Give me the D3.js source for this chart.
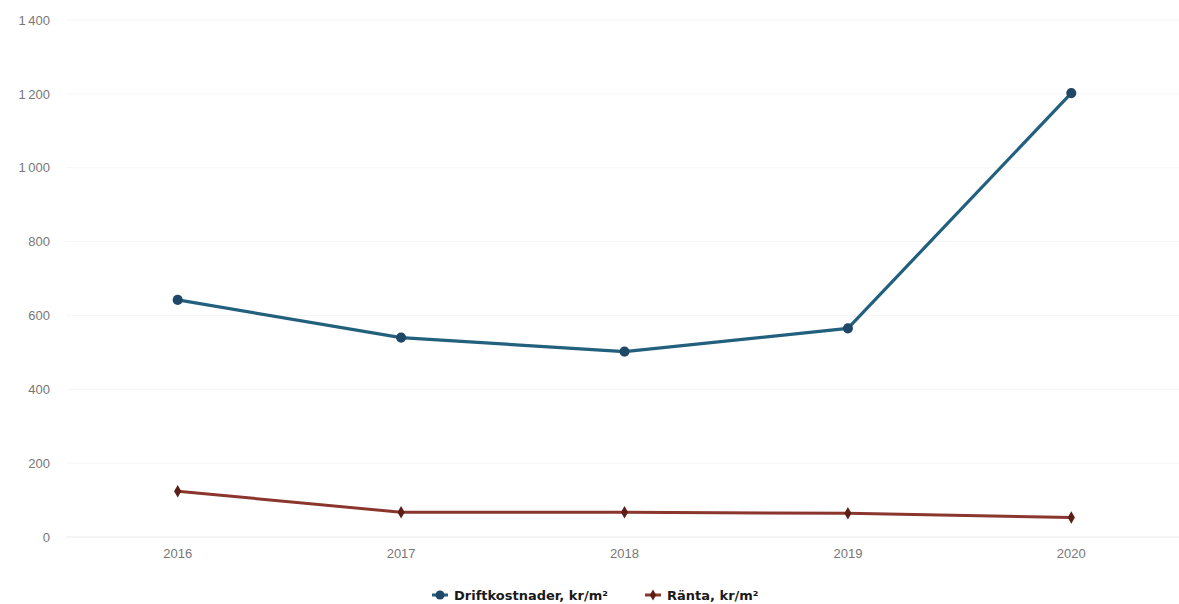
<!DOCTYPE html>
<html>
<head>
<meta charset="utf-8">
<script src="https://cdn.jsdelivr.net/npm/d3@7"></script>
<style>
  body { margin: 0; background: #fff; }
  svg { display: block; font-family: "Open Sans", "DejaVu Sans", sans-serif; }
  .tick-label { fill: #777; font-size: 13px; }
  .legend-label { fill: #1a1a1a; font-size: 14px; font-weight: 700; font-family: "DejaVu Sans", sans-serif; }
</style>
</head>
<body>
<div id="chart"></div>
<script>
// Driftkostnader vs Ränta, kr/m² per år

const years = ['2016', '2017', '2018', '2019', '2020'];
const driftkostnader = [642, 540, 502, 565, 1202];
const ranta = [124, 67, 67, 64, 53];
const yTicks = [0, 200, 400, 600, 800, 1000, 1200, 1400];

const W = 1179, H = 604;
const margin = { top: 20, right: 0, bottom: 67, left: 66 };
const width = W - margin.left - margin.right;
const height = H - margin.top - margin.bottom;

const svg = d3.select('#chart').append('svg')
    .attr('width', W)
    .attr('height', H);

const g = svg.append('g')
    .attr('transform', `translate(${margin.left},${margin.top})`);

// Scales (the band range runs a little past the right edge, as in the original)
const xScale = d3.scaleBand()
    .domain(years)
    .range([0, width + 4]);

const yScale = d3.scaleLinear()
    .domain([0, 1400])
    .range([height, 0]);

const cx = d => xScale(d) + xScale.bandwidth() / 2;

// Faint grid lines
g.selectAll('.grid')
    .data(yTicks)
    .enter()
    .append('line')
    .attr('x1', 0)
    .attr('x2', width)
    .attr('y1', d => yScale(d))
    .attr('y2', d => yScale(d))
    .attr('stroke', d => d === 0 ? '#ececec' : '#f6f6f6')
    .attr('stroke-width', 1);

// Y axis labels
const yAxis = g.append('g')
    .call(d3.axisLeft(yScale).tickValues(yTicks).tickSize(0).tickPadding(16)
        .tickFormat(d => d3.format(',')(d).replace(',', '\u2009')));
yAxis.select('.domain').remove();
yAxis.selectAll('text').attr('class', 'tick-label').attr('dy', '0.32em');

// X axis labels
const xAxis = g.append('g')
    .attr('transform', `translate(0,${height})`)
    .call(d3.axisBottom(xScale).tickSize(0).tickPadding(12));
xAxis.select('.domain').remove();
xAxis.selectAll('text').attr('class', 'tick-label');

const series = [
    { name: 'Driftkostnader, kr/m²', values: driftkostnader, line: '#22607e', marker: '#1f4766', width: 3.2, shape: d3.symbolCircle, size: 80 },
    { name: 'Ränta, kr/m²', values: ranta, line: '#8a362c', marker: '#5e1e18', width: 3, shape: d3.symbolDiamond, size: 45 }
];

const line = d3.line()
    .x((d, i) => cx(years[i]))
    .y(d => yScale(d));

series.forEach(s => {
    g.append('path')
        .datum(s.values)
        .attr('fill', 'none')
        .attr('stroke', s.line)
        .attr('stroke-width', s.width)
        .attr('stroke-linejoin', 'round')
        .attr('d', line);

    g.selectAll(null)
        .data(s.values)
        .enter()
        .append('path')
        .attr('transform', (d, i) => `translate(${cx(years[i])},${yScale(d)})`)
        .attr('d', d3.symbol().type(s.shape).size(s.size))
        .attr('fill', s.marker);
});

// Legend
const legend = svg.append('g').attr('transform', 'translate(432,595)');
const legendX = [0, 213];
series.forEach((s, i) => {
    const item = legend.append('g').attr('transform', `translate(${legendX[i]},0)`);
    item.append('line')
        .attr('x1', 0).attr('x2', 16)
        .attr('y1', 0).attr('y2', 0)
        .attr('stroke', s.line)
        .attr('stroke-width', 3);
    item.append('path')
        .attr('transform', 'translate(8,0)')
        .attr('d', d3.symbol().type(s.shape).size(s.size * 0.8))
        .attr('fill', s.marker);
    item.append('text')
        .attr('class', 'legend-label')
        .attr('x', 22)
        .attr('y', 4.5)
        .attr('font-size', 13)
        .style('font-size', '13px')
        .text(s.name);
});
</script>
</body>
</html>
